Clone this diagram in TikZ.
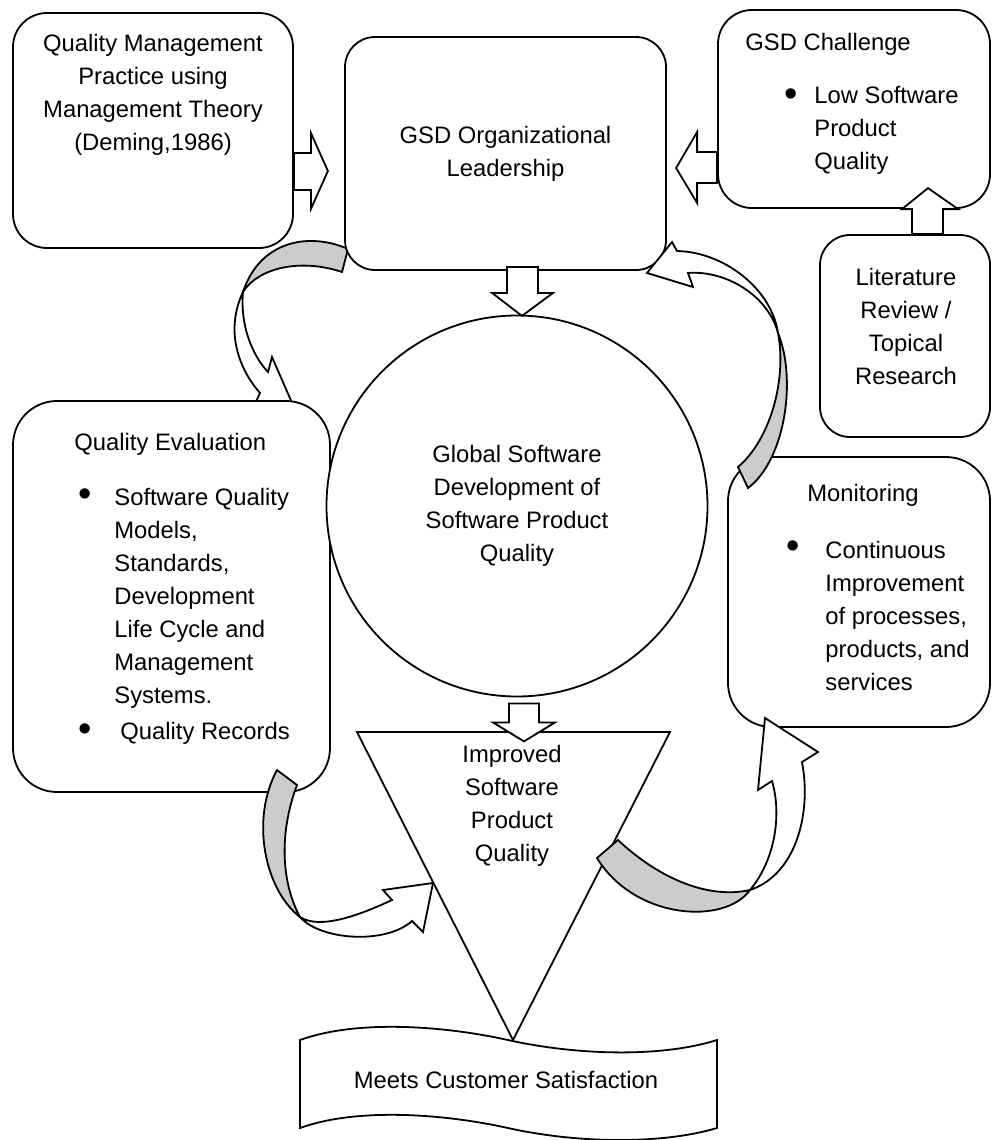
\documentclass[tikz,border=0pt]{standalone}
\usepackage{fontspec}
\setmainfont{Liberation Sans}
\usetikzlibrary{calc}

\begin{document}
\begin{tikzpicture}[x=0.5pt,y=-0.5pt]
	\tikzstyle{every node}+=[inner sep=0pt, font=\fontsize{11.9}{16.5}\selectfont]
	\tikzstyle{box}=[draw=black, line width=0.9pt, fill=white, rounded corners=16pt]
	\tikzstyle{blk}=[draw=black, line width=0.9pt, fill=white]
	\tikzstyle{band}=[draw=black, line width=0.9pt, fill=black!20]
	\tikzstyle{txt}=[align=center]
	\tikzstyle{lst}=[align=left, anchor=west]
	\tikzstyle{bul}=[font=\fontsize{19}{19}\selectfont]
	\useasboundingbox (0,0) rectangle (993,1140);
	\draw [band] (348,249) .. controls (310,232) and (260,240) .. (243,292) .. controls (258,268) and (300,258) .. (342,272) -- cycle;
	\draw [blk] (243,292) .. controls (225,330) and (238,368) .. (260,393) -- (252,410) -- (303,428) -- (272,357) -- (268,372) .. controls (252,355) and (240,325) .. (243,292) -- cycle;
	\node [box, minimum width=140pt, minimum height=117.5pt, rounded corners=17pt] (qm) at (153,130.5) {};
	\node [box, minimum width=160.5pt, minimum height=116.5pt, rounded corners=15pt, txt] (gsd) at (505.5,153.5) {GSD Organizational\\Leadership};
	\node [box, minimum width=136pt, minimum height=99pt, rounded corners=17pt] (chal) at (854,109) {};
	\node [box, minimum width=85pt, minimum height=101pt, rounded corners=15pt] (lit) at (905,336) {};
	\node [box, minimum width=158.5pt, minimum height=195.5pt, rounded corners=22pt] (qe) at (171.5,596.5) {};
	\node [box, minimum width=131pt, minimum height=135pt, rounded corners=22pt] (mon) at (859,592) {};
	\node [draw=black, line width=0.9pt, fill=white, circle, minimum size=190.5pt, txt] (glob) at (517,506) {Global Software\\Development of\\Software Product\\Quality};
	\draw [blk] (357,732) -- (670,732) -- (513,1040) -- cycle;
	\draw [blk] (300,1040) .. controls (355,1020) and (440,1025) .. (508,1040) .. controls (575,1055) and (660,1058) .. (717,1040) -- (717,1128) .. controls (660,1145) and (575,1143) .. (508,1128) .. controls (440,1113) and (355,1108) .. (300,1128) -- cycle;
	\node [txt] (qmt) at (153,94.5) {Quality Management\\Practice using\\Management Theory\\(Deming,1986)};
	\node [lst] (chalt) at (745,44) {GSD Challenge};
	\node [bul] (chalb) at (791,98) {\textbullet};
	\node [lst] (chall) at (814,130) {Low Software\\Product\\Quality};
	\node [txt] (litt) at (906,326) {Literature\\Review /\\Topical\\Research};
	\node [lst] (qet) at (74,444) {Quality Evaluation};
	\node [bul] (qeb1) at (85,498) {\textbullet};
	\node [lst] (qel1) at (114,598) {Software Quality\\Models,\\Standards,\\Development\\Life Cycle and\\Management\\Systems.};
	\node [bul] (qeb2) at (85,733) {\textbullet};
	\node [lst] (qel2) at (120,733) {Quality Records};
	\node [lst] (mont) at (807,495) {Monitoring};
	\node [bul] (monb) at (793,550) {\textbullet};
	\node [lst] (monl) at (825,616) {Continuous\\Improvement\\of processes,\\products, and\\services};
	\node [txt] (impr) at (512,806) {Improved\\Software\\Product\\Quality};
	\node [txt] (sat) at (506,1080) {Meets Customer Satisfaction};
	\draw [blk] (qm.east |- 0,153) -- ++(17,0) -- ++(0,-20) -- ++(17,38) -- ++(-17,38) -- ++(0,-19) -- ++(-17,0) -- cycle;
	\draw [blk] (chal.west |- 0,152) -- ++(-20,0) -- ++(0,-20) -- ++(-21,36) -- ++(21,35) -- ++(0,-20) -- ++(20,0) -- cycle;
	\draw [blk] ($(gsd.south -| 507,0)+(0,-4)$) -- ++(31,0) -- ++(0,26) -- ++(15,0) -- ++(-31,23) -- ++(-30,-23) -- ++(15,0) -- cycle;
	\draw [blk] ($(glob.south -| 509,0)+(0,6)$) -- ++(30,0) -- ++(0,19) -- ++(16,0) -- ++(-31,19) -- ++(-31,-19) -- ++(16,0) -- cycle;
	\draw [blk] (lit.north -| 912,0) -- ++(0,-25) -- ++(-10,0) -- ++(26,-21) -- ++(30,21) -- ++(-15,0) -- ++(0,25) -- cycle;
	\draw [band] (277,770) -- (297,785) .. controls (280,830) and (280,880) .. (300,917) .. controls (265,890) and (250,820) .. (277,770) -- cycle;
	\draw [blk] (300,917) .. controls (320,940) and (385,945) .. (412,921) -- (423,932) -- (433,883) -- (383,890) -- (392,900) .. controls (360,915) and (320,930) .. (300,917) -- cycle;
	\draw [band] (597,858) -- (618,840) .. controls (655,875) and (705,900) .. (750,890) .. controls (725,925) and (635,920) .. (597,858) -- cycle;
	\draw [blk] (750,890) .. controls (775,860) and (782,815) .. (772,781) -- (758,790) -- (765,718) -- (818,752) -- (802,762) .. controls (812,815) and (795,875) .. (750,890) -- cycle;
	\draw [band] (738,467) -- (748,488) .. controls (785,460) and (797,380) .. (778,333) .. controls (787,380) and (770,440) .. (738,467) -- cycle;
	\draw [blk] (778,333) .. controls (772,290) and (725,252) .. (677,251) -- (672,242) -- (647,273) -- (693,287) -- (688,273) .. controls (725,270) and (768,295) .. (778,333) -- cycle;
\end{tikzpicture}
\end{document}
